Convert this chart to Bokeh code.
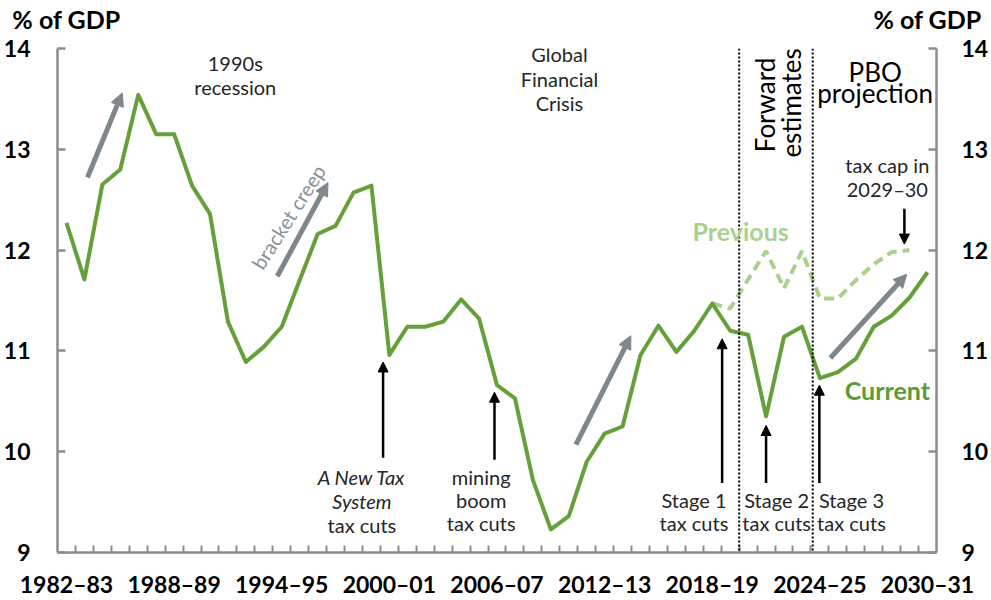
from bokeh.plotting import figure
from bokeh.models import Range1d, FixedTicker, LinearAxis, Label, Arrow, NormalHead, Span
from bokeh.embed import file_html
from bokeh.resources import INLINE

# ---------------- data ----------------
years = [f"{y}\u2013{(y + 1) % 100:02d}" for y in range(1982, 2031)]  # 1982–83 ... 2030–31
tick_labels = ["1982\u201383", "1988\u201389", "1994\u201395", "2000\u201301", "2006\u201307",
               "2012\u201313", "2018\u201319", "2024\u201325", "2030\u201331"]
current = [12.27, 11.71, 12.65, 12.80, 13.54, 13.15, 13.15, 12.64, 12.36, 11.29,
           10.89, 11.04, 11.24, 11.70, 12.16, 12.24, 12.57, 12.64, 10.96, 11.24,
           11.24, 11.29, 11.51, 11.32, 10.66, 10.53, 9.72, 9.23, 9.36, 9.90,
           10.18, 10.25, 10.96, 11.25, 10.99, 11.20, 11.47, 11.20, 11.16, 10.35,
           11.14, 11.24, 10.73, 10.79, 10.92, 11.24, 11.35, 11.53, 11.78]
previous_years = years[36:48]
previous = [11.47, 11.42, 11.71, 11.99, 11.62, 11.99, 11.52, 11.52, 11.70, 11.86, 11.98, 12.00]
y_ticks = [9, 10, 11, 12, 13, 14]
unit_label = "% of GDP"

GREEN = "#66a03a"
LIGHT = "#a9d18e"
GREY_ARROW = "#7d878c"
AXIS_GREY = "#8c8c8c"
TXT = "#262626"
FONT = "Lato"

x_cur = [years.index(y) for y in years]
x_prev = [years.index(y) for y in previous_years]

p = figure(width=991, height=600, x_range=Range1d(-0.5, 48.5), y_range=Range1d(9, 14),
           output_backend="svg", toolbar_location=None,
           min_border_left=57, min_border_right=53, min_border_top=47, min_border_bottom=47)
p.grid.visible = False
p.outline_line_color = None
p.background_fill_color = "white"
p.border_fill_color = "white"

# x axis (bottom)
xa = p.xaxis[0]
xa.ticker = FixedTicker(ticks=[years.index(t) for t in tick_labels],
                        minor_ticks=[i + 0.5 for i in range(len(years) - 1)])
xa.major_label_overrides = {years.index(t): t for t in tick_labels}
xa.major_tick_in = 0
xa.major_tick_out = 0
xa.minor_tick_in = 7
xa.minor_tick_out = 0
xa.minor_tick_line_color = AXIS_GREY
xa.minor_tick_line_width = 2
xa.axis_line_color = AXIS_GREY
xa.axis_line_width = 2.5
xa.major_label_standoff = 17
xa.major_label_text_font = FONT
xa.major_label_text_font_style = "bold"
xa.major_label_text_font_size = "23px"
xa.major_label_text_color = "black"

# top "axis" carrying the two unit titles
ta = LinearAxis(ticker=FixedTicker(ticks=[0, 48], minor_ticks=[]),
                major_label_overrides={0: unit_label, 48: unit_label})
ta.axis_line_color = None
ta.major_tick_line_color = None
ta.minor_tick_line_color = None
ta.major_tick_in = 0
ta.major_tick_out = 0
ta.major_label_standoff = 15
ta.major_label_text_font = FONT
ta.major_label_text_font_style = "bold"
ta.major_label_text_font_size = "25px"
ta.major_label_text_color = "black"
p.add_layout(ta, "above")

# y axes
def style_y(ax):
    ax.ticker = FixedTicker(ticks=y_ticks, minor_ticks=[])
    ax.major_tick_in = 8
    ax.major_tick_out = 0
    ax.minor_tick_in = 0
    ax.minor_tick_out = 0
    ax.major_tick_line_color = AXIS_GREY
    ax.major_tick_line_width = 2.5
    ax.axis_line_color = AXIS_GREY
    ax.axis_line_width = 2.5
    ax.major_label_text_font = FONT
    ax.major_label_text_font_style = "bold"
    ax.major_label_text_font_size = "23px"
    ax.major_label_text_color = "black"

ya = p.yaxis[0]
style_y(ya)
ya.major_label_standoff = 27
ra = LinearAxis()
style_y(ra)
ra.major_label_standoff = 25
p.add_layout(ra, "right")

# period separators
for loc in (37.5, 41.6):
    p.add_layout(Span(location=loc, dimension="height", line_color="black",
                      line_width=2, line_dash="2 2"))

# series
p.line(x_prev, previous, line_color=LIGHT, line_width=4, line_dash="10 6")
p.line(x_cur, current, line_color=GREEN, line_width=4, line_join="round")

# grey trend arrows
for xs, ys, xe, ye in [(1.17, 12.72, 3.11, 13.56), (11.75, 11.74, 14.58, 12.67),
                       (28.4, 10.07, 31.46, 11.15), (42.58, 10.93, 46.84, 11.76)]:
    p.add_layout(Arrow(end=NormalHead(size=13, fill_color=GREY_ARROW, line_color=GREY_ARROW),
                       x_start=xs, y_start=ys, x_end=xe, y_end=ye,
                       line_color=GREY_ARROW, line_width=5))

# black annotation arrows
for xs, ys, xe, ye in [(17.65, 9.94, 17.65, 10.89), (23.86, 9.92, 23.86, 10.59),
                       (36.55, 9.69, 36.55, 11.12), (39.0, 9.69, 39.0, 10.26),
                       (41.97, 9.69, 41.97, 10.66), (46.71, 12.41, 46.71, 12.06)]:
    p.add_layout(Arrow(end=NormalHead(size=10, fill_color="black", line_color="black"),
                       x_start=xs, y_start=ys, x_end=xe, y_end=ye,
                       line_color="black", line_width=2.5))

def lab(x, y, text, size="20px", color=TXT, style="normal", align="center", angle=0):
    p.add_layout(Label(x=x, y=y, text=text, text_font=FONT, text_font_size=size,
                       text_color=color, text_font_style=style, text_align=align,
                       text_baseline="middle", angle=angle, angle_units="deg"))

lab(9.41, 13.86, "1990s")
lab(9.41, 13.62, "recession")
lab(27.48, 13.95, "Global")
lab(27.48, 13.70, "Financial")
lab(27.48, 13.46, "Crisis")
lab(12.36, 12.33, "bracket creep", color="#8a9296", angle=57.5)

lab(16.47, 9.75, "A New Tax", style="italic")
lab(16.47, 9.51, "System", style="italic")
lab(16.47, 9.27, "tax cuts")
lab(23.12, 9.75, "mining")
lab(23.12, 9.52, "boom")
lab(23.12, 9.29, "tax cuts")
lab(34.98, 9.52, "Stage 1")
lab(34.98, 9.29, "tax cuts")
lab(39.59, 9.52, "Stage 2")
lab(39.59, 9.29, "tax cuts")
lab(43.76, 9.52, "Stage 3")
lab(43.76, 9.29, "tax cuts")
lab(45.76, 12.84, "tax cap in")
lab(45.76, 12.61, "2029\u201330")

lab(37.58, 12.19, "Previous", size="25px", color=LIGHT, style="bold")
lab(45.76, 10.61, "Current", size="25px", color="#5e9a35", style="bold")

lab(38.93, 13.44, "Forward", size="26px", color="black", angle=90)
lab(40.37, 13.46, "estimates", size="26px", color="black", angle=90)
lab(45.08, 13.77, "PBO", size="26px", color="black")
lab(45.08, 13.56, "projection", size="26px", color="black")

open("out.html", "w").write(file_html(p, INLINE))
